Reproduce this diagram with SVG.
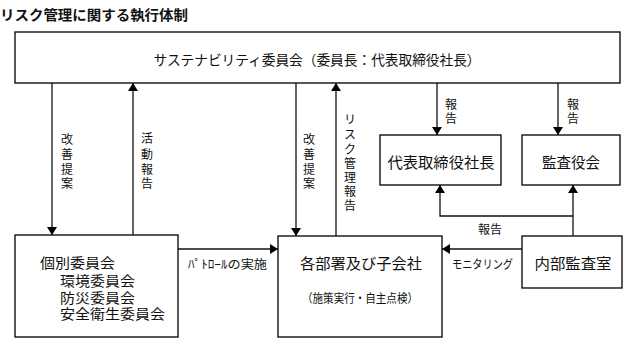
<svg xmlns="http://www.w3.org/2000/svg" width="624" height="339" viewBox="0 0 624 339">
<defs>
<marker id="ah" markerWidth="8" markerHeight="10" refX="8" refY="5" orient="auto" markerUnits="userSpaceOnUse" viewBox="0 0 8 10">
<path d="M0,0 L8,5 L0,10 Z" fill="#000"/>
</marker>
<style>
.t{font-family:"Noto Sans CJK JP","Noto Sans CJK SC",sans-serif;fill:#111;dominant-baseline:central}
.box{fill:#fff;stroke:#111;stroke-width:1.4}
.ln{fill:none;stroke:#111;stroke-width:1.3}
.v{font-size:12px;text-anchor:middle}
.m{text-anchor:middle}
</style>
</defs>
<rect width="624" height="339" fill="#fff"/>
<text class="t" x="0" y="14" font-size="14" font-weight="bold" textLength="188" lengthAdjust="spacingAndGlyphs">リスク管理に関する執行体制</text>

<g id="sustainability">
<rect class="box" x="15" y="32" width="605" height="51"/>
<text class="t m" x="317" y="59" font-size="14" textLength="327" lengthAdjust="spacingAndGlyphs">サステナビリティ委員会（委員長：代表取締役社長）</text>
</g>

<g id="president">
<rect class="box" x="380" y="135" width="121" height="50"/>
<text class="t m" x="441" y="161" font-size="15" textLength="107" lengthAdjust="spacingAndGlyphs">代表取締役社長</text>
</g>

<g id="auditors">
<rect class="box" x="522" y="135" width="98" height="50"/>
<text class="t m" x="571" y="161" font-size="15" textLength="58" lengthAdjust="spacingAndGlyphs">監査役会</text>
</g>

<g id="committees">
<rect class="box" x="15" y="235" width="163" height="102"/>
<text class="t" x="40" y="262" font-size="14" textLength="75" lengthAdjust="spacingAndGlyphs">個別委員会</text>
<text class="t" x="60" y="280" font-size="13.5" textLength="75" lengthAdjust="spacingAndGlyphs">環境委員会</text>
<text class="t" x="60" y="297" font-size="13.5" textLength="75" lengthAdjust="spacingAndGlyphs">防災委員会</text>
<text class="t" x="60" y="313" font-size="13.5" textLength="105" lengthAdjust="spacingAndGlyphs">安全衛生委員会</text>
</g>

<g id="departments">
<rect class="box" x="278" y="236" width="164" height="101"/>
<text class="t m" x="361" y="262" font-size="15" textLength="122" lengthAdjust="spacingAndGlyphs">各部署及び子会社</text>
<text class="t m" x="360" y="297" font-size="12" textLength="116" lengthAdjust="spacingAndGlyphs">（施策実行・自主点検）</text>
</g>

<g id="internal-audit">
<rect class="box" x="522" y="236" width="100" height="52"/>
<text class="t m" x="573" y="262" font-size="15" textLength="77" lengthAdjust="spacingAndGlyphs">内部監査室</text>
</g>

<g id="connectors">
<line class="ln" x1="52" y1="83" x2="52" y2="235" marker-end="url(#ah)"/>
<line class="ln" x1="133" y1="235" x2="133" y2="83" marker-end="url(#ah)"/>
<line class="ln" x1="296" y1="83" x2="296" y2="236" marker-end="url(#ah)"/>
<line class="ln" x1="336" y1="236" x2="336" y2="83" marker-end="url(#ah)"/>
<line class="ln" x1="437" y1="83" x2="437" y2="135" marker-end="url(#ah)"/>
<line class="ln" x1="558" y1="83" x2="558" y2="135" marker-end="url(#ah)"/>
<line class="ln" x1="573" y1="236" x2="573" y2="185" marker-end="url(#ah)"/>
<polyline class="ln" points="573,216 440,216 440,185" marker-end="url(#ah)"/>
<line class="ln" x1="178" y1="249" x2="278" y2="249" marker-end="url(#ah)"/>
<line class="ln" x1="522" y1="249" x2="442" y2="249" marker-end="url(#ah)"/>

<g class="t v">
<text x="67" y="138">改</text><text x="67" y="153">善</text><text x="67" y="168">提</text><text x="67" y="182">案</text>
<text x="147" y="137">活</text><text x="147" y="153">動</text><text x="147" y="168">報</text><text x="147" y="182">告</text>
<text x="309" y="138">改</text><text x="309" y="153">善</text><text x="309" y="168">提</text><text x="309" y="182">案</text>
<text x="350" y="118">リ</text><text x="350" y="133">ス</text><text x="350" y="148">ク</text><text x="350" y="162">管</text><text x="350" y="176">理</text><text x="350" y="190">報</text><text x="350" y="204">告</text>
<text x="451" y="103">報</text><text x="451" y="117">告</text>
<text x="573" y="103">報</text><text x="573" y="117">告</text>
</g>
<text class="t m" x="490" y="228" font-size="12">報告</text>
<text class="t" x="188" y="263" font-size="12" textLength="79" lengthAdjust="spacingAndGlyphs">ﾊﾟﾄﾛｰﾙの実施</text>
<text class="t" x="452" y="263" font-size="12" textLength="61" lengthAdjust="spacingAndGlyphs">モニタリング</text>
</g>
</svg>
